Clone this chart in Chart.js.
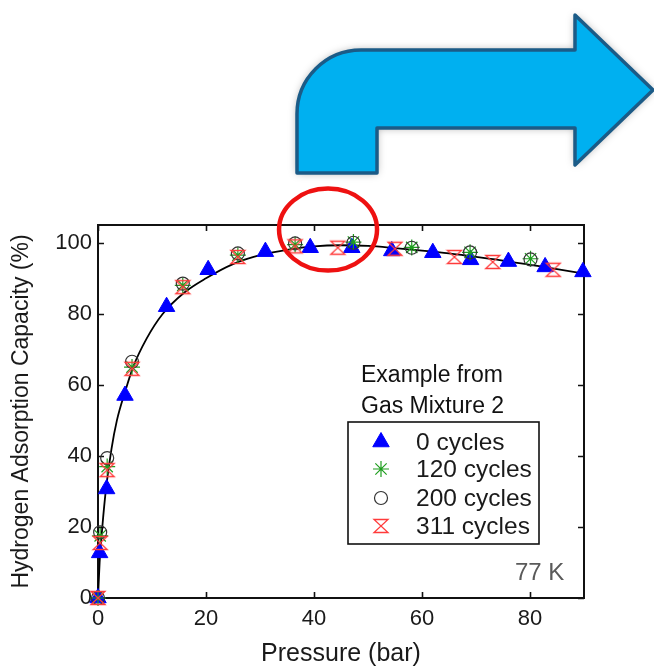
<!DOCTYPE html>
<html>
<head>
<meta charset="utf-8">
<script src="https://cdn.jsdelivr.net/npm/chart.js@4.4.0/dist/chart.umd.min.js"></script>
<style>
  html, body { margin: 0; padding: 0; background: #fff; }
  #wrap { width: 654px; height: 669px; }
</style>
</head>
<body>
<div id="wrap"><canvas id="isotherm" width="654" height="669"></canvas></div>
<script>
// Hydrogen adsorption capacity vs pressure at 77 K, after repeated cycling

const xTicks = [0, 20, 40, 60, 80];
const yTicks = [0, 20, 40, 60, 80, 100];

// 0 cycles
const p0 = [0, 0.3, 1.6, 5, 12.7, 20.4, 31, 39.3, 47, 54.4, 62, 69, 76, 82.8, 89.8];
const c0 = [0, 12.7, 30.7, 57, 82, 92.4, 97.5, 98.6, 98.6, 97.7, 97.2, 95.2, 94.7, 93.2, 91.8];

// 120 cycles
const p120 = [0, 0.4, 1.7, 6.3, 15.7, 25.9, 36.5, 47.3, 58.1, 68.9, 80.1];
const c120 = [0, 17.5, 37, 65, 88, 96.5, 99.5, 100.2, 98.7, 97.3, 95.5];

// 200 cycles
const p200 = [0, 0.4, 1.7, 6.3, 15.7, 25.9, 36.5, 47.3, 58.1, 68.9, 80.1];
const c200 = [0, 18.5, 39.4, 66.5, 88.5, 97, 99.8, 100, 98.6, 97.3, 95.3];

// 311 cycles
const p311 = [0, 0.4, 1.7, 6.3, 15.7, 25.9, 36.5, 44.4, 55, 66, 73.1, 84.3];
const c311 = [0, 15.5, 36, 64.5, 87.5, 96, 99, 98.6, 98.3, 96, 94.6, 92.4];

// fitted isotherm
const fitP = [0, 0.3, 0.8, 1.5, 2.5, 3.5, 5, 6.5, 9, 12, 16, 20, 25, 30, 35, 40, 45, 50, 55, 60, 65, 70, 75, 80, 85, 90];
const fitC = [0, 10, 20, 31, 42, 50, 58, 65, 73, 80, 86, 90, 94, 96.5, 98, 99, 99.3, 99.1, 98.5, 97.8, 97, 96, 95, 93.8, 92.6, 91.3];

const legendLabels = ['0 cycles', '120 cycles', '200 cycles', '311 cycles'];
const noteLines = ['Example from', 'Gas Mixture 2'];
const tempLabel = '77 K';

const FONT = '"Liberation Sans", Arial, sans-serif';

function pts(xs, ys) {
    return xs.map((x, i) => ({ x: x, y: ys[i] }));
}

// red hourglass marker (not a built-in point style)
function makeHourglass(color) {
    const c = document.createElement('canvas');
    c.width = 18;
    c.height = 18;
    const g = c.getContext('2d');
    g.strokeStyle = color;
    g.lineWidth = 1.3;
    g.beginPath();
    g.moveTo(2, 2.5);
    g.lineTo(16, 2.5);
    g.lineTo(2, 15.5);
    g.lineTo(16, 15.5);
    g.closePath();
    g.stroke();
    return c;
}
const hourglass = makeHourglass('#ff3b3b');

const markerSets = [
    { label: legendLabels[0], data: pts(p0, c0), pointStyle: 'triangle', radius: 9.5,
      backgroundColor: '#0000ff', borderColor: '#0000ff', borderWidth: 1, order: 4 },
    { label: legendLabels[1], data: pts(p120, c120), pointStyle: 'star', radius: 8,
      backgroundColor: 'rgba(0,0,0,0)', borderColor: '#1f9e1f', borderWidth: 1.2, order: 3 },
    { label: legendLabels[2], data: pts(p200, c200), pointStyle: 'circle', radius: 6.5,
      backgroundColor: 'rgba(0,0,0,0)', borderColor: '#333333', borderWidth: 1.2, order: 2 },
    { label: legendLabels[3], data: pts(p311, c311), pointStyle: hourglass, radius: 9,
      backgroundColor: 'rgba(0,0,0,0)', borderColor: '#ff3b3b', borderWidth: 1.2, order: 1 }
];

const datasets = markerSets.map(s => ({
    label: s.label,
    data: s.data,
    showLine: false,
    pointStyle: s.pointStyle,
    pointRadius: s.radius,
    pointHoverRadius: s.radius,
    pointBackgroundColor: s.backgroundColor,
    pointBorderColor: s.borderColor,
    pointBorderWidth: s.borderWidth,
    clip: false,
    order: s.order
}));

datasets.push({
    label: 'fit',
    data: pts(fitP, fitC),
    showLine: true,
    borderColor: '#000000',
    borderWidth: 1.8,
    pointRadius: 0,
    cubicInterpolationMode: 'monotone',
    clip: false,
    order: 10
});

// frame, inward ticks, legend box, notes, highlight ellipse and arrow
const decor = {
    id: 'decor',
    beforeDatasetsDraw(chart) {
        const { ctx, chartArea: a, scales } = chart;
        ctx.save();
        ctx.strokeStyle = '#111';
        ctx.lineWidth = 1.6;
        ctx.beginPath();
        scales.x.ticks.forEach(t => {
            const px = Math.round(scales.x.getPixelForValue(t.value)) + 0.5;
            ctx.moveTo(px, a.bottom); ctx.lineTo(px, a.bottom - 6);
            ctx.moveTo(px, a.top); ctx.lineTo(px, a.top + 6);
        });
        scales.y.ticks.forEach(t => {
            const py = Math.round(scales.y.getPixelForValue(t.value)) + 0.5;
            ctx.moveTo(a.left, py); ctx.lineTo(a.left + 6, py);
            ctx.moveTo(a.right, py); ctx.lineTo(a.right - 6, py);
        });
        ctx.stroke();
        ctx.lineWidth = 2;
        ctx.strokeRect(a.left, a.top, a.right - a.left, a.bottom - a.top);
        ctx.restore();
    },
    afterDraw(chart) {
        const { ctx, scales } = chart;
        ctx.save();

        // notes
        ctx.fillStyle = '#111';
        ctx.font = '23px ' + FONT;
        ctx.textBaseline = 'middle';
        ctx.textAlign = 'left';
        ctx.fillText(noteLines[0], 361, 376);
        ctx.fillText(noteLines[1], 361, 407);

        // legend box
        ctx.lineWidth = 1.6;
        ctx.strokeStyle = '#111';
        ctx.fillStyle = '#fff';
        ctx.fillRect(348, 422, 191, 122);
        ctx.strokeRect(348, 422, 191, 122);
        const rowY = [442, 469, 498, 526];
        markerSets.forEach((s, i) => {
            ctx.fillStyle = s.backgroundColor;
            ctx.strokeStyle = s.borderColor;
            ctx.lineWidth = s.borderWidth;
            Chart.helpers.drawPoint(ctx, {
                pointStyle: s.pointStyle, radius: s.radius, rotation: 0, borderWidth: s.borderWidth
            }, 381, rowY[i]);
            ctx.fillStyle = '#1a1a1a';
            ctx.font = '24.5px ' + FONT;
            ctx.textBaseline = 'middle';
            ctx.fillText(s.label, 416, rowY[i] + 1);
        });

        // temperature
        ctx.fillStyle = '#5a5a5a';
        ctx.font = '24px ' + FONT;
        ctx.fillText(tempLabel, 515, 573);

        // highlight ellipse around the plateau
        const ex = scales.x.getPixelForValue(42.6);
        const ey = scales.y.getPixelForValue(103.7);
        ctx.strokeStyle = '#ee1111';
        ctx.lineWidth = 4.5;
        ctx.beginPath();
        ctx.ellipse(ex, ey, 49, 41, 0, 0, Math.PI * 2);
        ctx.stroke();

        // bent arrow
        ctx.beginPath();
        ctx.moveTo(297, 173);
        ctx.lineTo(297, 114);
        ctx.arc(361, 114, 64, Math.PI, Math.PI * 1.5);
        ctx.lineTo(575, 50);
        ctx.lineTo(575, 15);
        ctx.lineTo(653, 90);
        ctx.lineTo(575, 165);
        ctx.lineTo(575, 128);
        ctx.lineTo(377, 128);
        ctx.lineTo(377, 173);
        ctx.closePath();
        ctx.shadowColor = 'rgba(0,0,0,0.35)';
        ctx.shadowBlur = 8;
        ctx.fillStyle = '#00b0f0';
        ctx.fill();
        ctx.shadowColor = 'rgba(0,0,0,0)';
        ctx.strokeStyle = '#1b5b87';
        ctx.lineWidth = 3.5;
        ctx.lineJoin = 'round';
        ctx.stroke();

        ctx.restore();
    }
};

new Chart(document.getElementById('isotherm').getContext('2d'), {
    type: 'scatter',
    data: { datasets: datasets },
    options: {
        responsive: false,
        animation: false,
        layout: { padding: { top: 225, right: 70, left: 0, bottom: 0 } },
        plugins: {
            legend: { display: false },
            tooltip: { enabled: false }
        },
        scales: {
            x: {
                type: 'linear',
                min: 0,
                max: 90,
                afterFit: s => { s.height = 71; },
                afterBuildTicks: s => { s.ticks = xTicks.map(v => ({ value: v })); },
                grid: { display: false, drawTicks: false },
                border: { display: false },
                ticks: { padding: 8, color: '#1a1a1a', font: { family: FONT, size: 22 } },
                title: {
                    display: true,
                    text: 'Pressure (bar)',
                    color: '#1a1a1a',
                    font: { family: FONT, size: 25 },
                    padding: { top: 0, bottom: 0 }
                }
            },
            y: {
                type: 'linear',
                min: 0,
                max: 105,
                afterFit: s => { s.width = 98; },
                afterBuildTicks: s => { s.ticks = yTicks.map(v => ({ value: v })); },
                grid: { display: false, drawTicks: false },
                border: { display: false },
                ticks: { padding: 6, color: '#1a1a1a', font: { family: FONT, size: 22 } },
                title: {
                    display: true,
                    text: 'Hydrogen Adsorption Capacity (%)',
                    color: '#1a1a1a',
                    font: { family: FONT, size: 23 },
                    padding: { top: 8, bottom: 0 }
                }
            }
        }
    },
    plugins: [decor]
});
</script>
</body>
</html>
